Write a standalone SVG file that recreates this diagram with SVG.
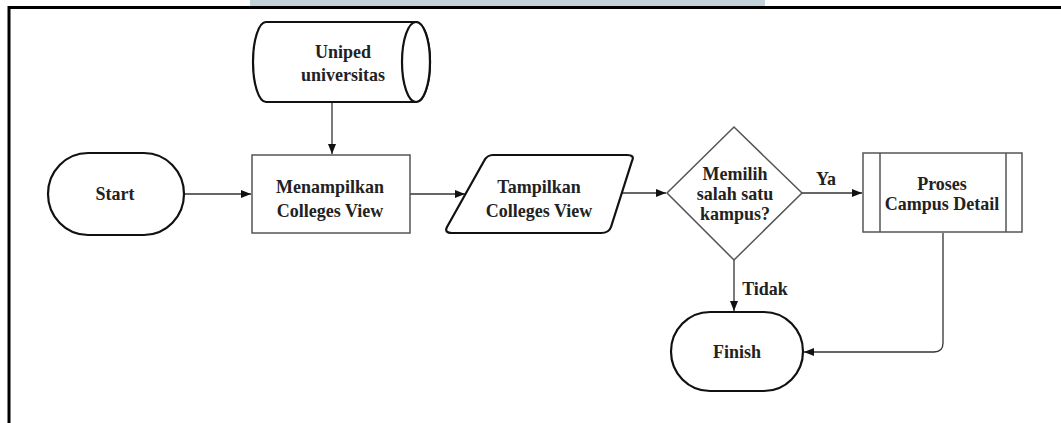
<svg xmlns="http://www.w3.org/2000/svg" width="1061" height="423" viewBox="0 0 1061 423">
  <style>
    .lbl { font-family: "Liberation Serif", "Times New Roman", serif; font-weight: bold; font-size: 18px; fill: #222; text-anchor: middle; }
    .thick { fill: #fff; stroke: #111; stroke-width: 2.2; }
    .thin { fill: #fff; stroke: #555; stroke-width: 1.5; }
    .conn { fill: none; stroke: #333; stroke-width: 1.3; }
  </style>
  <defs>
    <marker id="arrow" markerUnits="userSpaceOnUse" markerWidth="11" markerHeight="9" refX="10" refY="4" orient="auto">
      <path d="M0,0 L10,4 L0,8 Z" fill="#111"/>
    </marker>
  </defs>

  <rect width="1061" height="423" fill="#fff"/>
  <!-- page header strip and frame -->
  <rect x="250" y="0" width="515" height="6" fill="#c2d3da"/>
  <path d="M9,423 V7.5 H1061" fill="none" stroke="#000" stroke-width="3"/>

  <!-- connectors -->
  <g id="connectors">
    <path class="conn" d="M184,194 H251" marker-end="url(#arrow)"/>
    <path class="conn" d="M332,102 V154" marker-end="url(#arrow)"/>
    <path class="conn" d="M410,194 H465" marker-end="url(#arrow)"/>
    <path class="conn" d="M621,193 H666" marker-end="url(#arrow)"/>
    <path class="conn" d="M802,193 H862" marker-end="url(#arrow)"/>
    <path class="conn" d="M734,260 V311" marker-end="url(#arrow)"/>
    <path class="conn" d="M943,233 V343 Q943,352 934,352 H804" marker-end="url(#arrow)"/>
    <text class="lbl" transform="translate(826,185) scale(1,1.08)">Ya</text>
    <text class="lbl" transform="translate(765,295) scale(1,1.08)">Tidak</text>
  </g>

  <g id="start">
    <rect class="thick" x="48" y="153" width="136" height="82" rx="40" ry="41"/>
    <text class="lbl" transform="translate(115,200) scale(1,1.08)">Start</text>
  </g>

  <g id="uniped-db">
    <path class="thick" d="M266,22 H416 A14,40 0 0 1 416,102 H266 A13,40 0 0 1 266,22 Z"/>
    <ellipse class="thick" cx="416" cy="62" rx="14" ry="40" fill="none"/>
    <text class="lbl" transform="translate(343,58) scale(1,1.08)">Uniped<tspan x="0" dy="21.3">universitas</tspan></text>
  </g>

  <g id="menampilkan">
    <rect class="thin" x="252" y="155" width="158" height="78"/>
    <text class="lbl" transform="translate(330,193) scale(1,1.08)">Menampilkan<tspan x="0" dy="22.2">Colleges View</tspan></text>
  </g>

  <g id="tampilkan">
    <path class="thick" d="M493,155 H627 Q635,155 632,161 L611,227 Q609,233 601,233 H452 Q444,233 447,227 L484,161 Q487,155 493,155 Z"/>
    <text class="lbl" transform="translate(539,193) scale(1,1.08)">Tampilkan<tspan x="0" dy="22.2">Colleges View</tspan></text>
  </g>

  <g id="decision">
    <path class="thin" d="M734,127 L802,193 L734,260 L667,193 Z"/>
    <text class="lbl" transform="translate(735,180) scale(1,1.08)">Memilih<tspan x="0" dy="18.5">salah satu</tspan><tspan x="0" dy="18.5">kampus?</tspan></text>
  </g>

  <g id="campus-detail">
    <rect class="thin" x="863" y="153" width="159" height="79"/>
    <path class="thin" d="M880,153 V232 M1006,153 V232"/>
    <text class="lbl" transform="translate(942,190) scale(1,1.08)">Proses<tspan x="0" dy="18.5">Campus Detail</tspan></text>
  </g>

  <g id="finish">
    <rect class="thick" x="671" y="312" width="132" height="79" rx="39" ry="39.5"/>
    <text class="lbl" transform="translate(737,358) scale(1,1.08)">Finish</text>
  </g>
</svg>
